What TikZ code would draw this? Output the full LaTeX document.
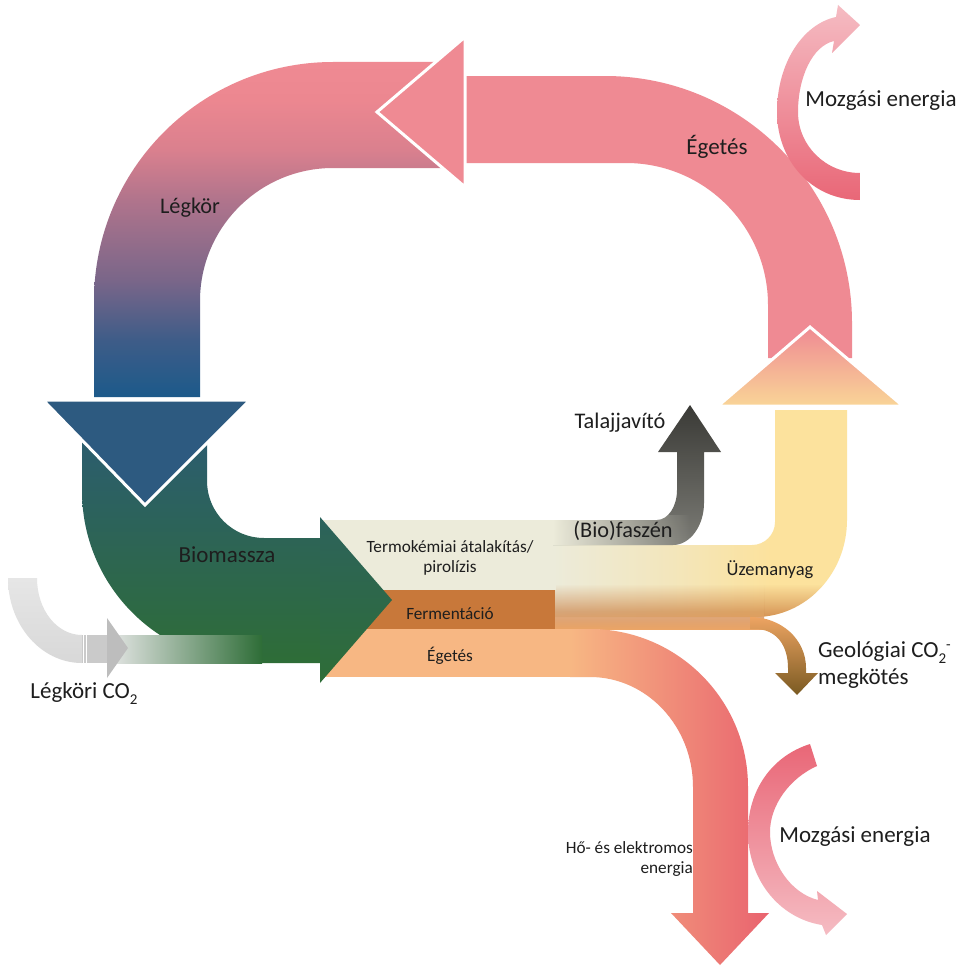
\documentclass[tikz,border=0pt]{standalone}
\usepackage{fontspec}
\setmainfont{Carlito}
\usetikzlibrary{fadings}
\definecolor{pinkA}{HTML}{EF8A93}
\definecolor{triMid}{HTML}{F3A38E}
\definecolor{triBot}{HTML}{F9D597}
\definecolor{beige}{HTML}{ECEBDA}
\definecolor{uzMid}{HTML}{F3E6BC}
\definecolor{yel}{HTML}{FCE29D}
\definecolor{ferm}{HTML}{C8783A}
\definecolor{fermLow}{HTML}{EBA566}
\definecolor{egOr}{HTML}{F7B783}
\definecolor{geoTop}{HTML}{EDA462}
\definecolor{geoMid}{HTML}{C98C45}
\definecolor{olive}{HTML}{7A5A22}
\definecolor{darkG}{HTML}{3A3A36}
\definecolor{gryB}{HTML}{7C7C76}
\definecolor{hoMid}{HTML}{F09283}
\definecolor{redE}{HTML}{E9636F}
\definecolor{grTop}{HTML}{2B5A78}
\definecolor{grBot}{HTML}{2E6D37}
\definecolor{triBlue}{HTML}{2D5A80}
\definecolor{co2L}{HTML}{E8E8E8}
\definecolor{co2M}{HTML}{B4C6B2}
\definecolor{co2T}{HTML}{E6E6E6}
\definecolor{co2B}{HTML}{D8D8D8}
\definecolor{co2S}{HTML}{CACACA}
\definecolor{co2H}{HTML}{BDBDBD}
\definecolor{mzLight}{HTML}{F5BCC3}
\definecolor{mzDark}{HTML}{E96777}
\definecolor{txt}{HTML}{1E1E1E}
\definecolor{lkA}{HTML}{1C5A8A}
\definecolor{lkB}{HTML}{3E5C88}
\definecolor{lkC}{HTML}{7A6689}
\definecolor{lkD}{HTML}{B0748C}
\definecolor{lkE}{HTML}{DA808E}
\definecolor{lkF}{HTML}{EC8790}
\definecolor{lkG}{HTML}{EF8A93}
\pgfdeclareverticalshading{legkorsh}{100bp}{color(0bp)=(lkA); color(25bp)=(lkA); color(33.5bp)=(lkB); color(42.5bp)=(lkC); color(54.4bp)=(lkD); color(61.9bp)=(lkE); color(69.3bp)=(lkF); color(75bp)=(lkG); color(100bp)=(lkG)}
\pgfdeclarehorizontalshading{uzsh}{100bp}{color(0bp)=(beige); color(25bp)=(beige); color(45bp)=(uzMid); color(62bp)=(yel); color(100bp)=(yel)}
\pgfdeclareverticalshading{fermsh}{100bp}{color(0bp)=(fermLow); color(25bp)=(fermLow); color(45bp)=(ferm); color(58bp)=(ferm); color(75bp)=(ferm); color(100bp)=(ferm)}
\tikzfading[name=fadeTopPart, top color=transparent!100, middle color=transparent!0, bottom color=transparent!0]
\tikzfading[name=fadeLeftOpaque, left color=transparent!0, right color=transparent!100]
\newcommand{\lowtwo}{\raisebox{-0.28em}{\fontsize{15}{15}\selectfont 2}}
\newcommand{\highdash}{\raisebox{0.32em}{\fontsize{15}{15}\selectfont -}}
\def\uzpath{(553,545) -- (752,545) .. controls (764.7,545) and (775,534.7) .. (775,522) -- (775,410) -- (847,410) -- (847,520) .. controls (847,573.5) and (806,617) .. (755,617) -- (553,617) -- cycle}
\def\darkpath{(553,520) -- (657,520) .. controls (668,520) and (677,506.6) .. (677,490) -- (677,452) -- (658,452) -- (690,405) -- (721,452) -- (704,452) -- (704,503) .. controls (704,526) and (690,545) .. (673,545) -- (553,545) -- cycle}
\begin{document}
\begin{tikzpicture}[x=1pt,y=-1pt,
  lbl/.style={text=txt, inner sep=0pt, anchor=base},
  fsBig/.style={lbl, font=\fontsize{23}{28}\selectfont},
  fsMed/.style={lbl, font=\fontsize{22.3}{27}\selectfont},
  fsUz/.style={lbl, font=\fontsize{18.5}{22}\selectfont},
  fsSmall/.style={lbl, font=\fontsize{17.2}{20}\selectfont},
  wtri/.style={draw=white, line width=3pt, line join=miter}]
\fill[white] (0,0) rectangle (961,966);
\useasboundingbox (0,0) rectangle (961,966);
% upper Egetes band
\fill[pinkA] (445,76) -- (605,76) arc[start angle=-90, end angle=0, radius=247] -- (852,358) -- (768,358) -- (768,305) arc[start angle=0, end angle=-90, radius=142] -- (445,163) -- cycle;
% up triangle
\shadedraw[wtri, top color=pinkA, middle color=triMid, bottom color=triBot] (718,406) -- (903,406) -- (810,327) -- cycle;
% Uzemanyag band
\shade[shading=uzsh] \uzpath;
\begin{scope}
\clip \uzpath;
\fill[ferm, path fading=fadeTopPart] (764,584) rectangle (860,629);
\end{scope}
% fermentation continuation
\shade[shading=fermsh, path fading=fadeTopPart] (553,584) rectangle (764,629);
% Geologiai branch
\shade[top color=geoTop, middle color=geoMid, bottom color=olive] (750,617) .. controls (781,617) and (806,639) .. (806,668) -- (806,673) -- (818,673) -- (797,695) -- (775,673) -- (788,673) -- (788,668) .. controls (788,645) and (776,629) .. (755,629) -- (750,629) -- cycle;
% process boxes
\fill[beige] (320,520) rectangle (556,590);
\fill[ferm] (320,590) rectangle (555,629);
\fill[egOr] (320,629) rectangle (600,677);
% Talajjavito dark arrow
\shade[top color=darkG, bottom color=gryB] \darkpath;
\begin{scope}
\clip \darkpath;
\fill[beige, path fading=fadeLeftOpaque] (553,515) rectangle (690,550);
\end{scope}
% Ho- es elektromos arrow
\shade[left color=egOr, middle color=hoMid, right color=redE] (570,629) -- (590,629) arc[start angle=-90, end angle=0, radius=158] -- (748,913) -- (769,913) -- (720,965) -- (671,913) -- (693,913) -- (693,787) arc[start angle=0, end angle=-90, x radius=103, y radius=110] -- (570,677) -- cycle;
% Biomassza green arc
\shade[top color=grTop, bottom color=grBot] (82,400) -- (207,400) -- (207,481) arc[start angle=180, end angle=90, radius=57] -- (330,538) -- (330,663) -- (254,663) arc[start angle=90, end angle=180, radius=172] -- cycle;
% Legkori CO2 arrow
\shade[left color=co2L, middle color=co2M, right color=grBot] (107,635) rectangle (262,663);
\shade[top color=co2T, bottom color=co2B] (8,578) -- (37,578) .. controls (37,610) and (57,635) .. (82,635) -- (82,663) .. controls (41,663) and (8,625) .. (8,578) -- cycle;
\fill[co2S] (82,635) rectangle (107,663);
\draw[white, line width=0.8pt] (83.5,635) -- (83.5,663) (86.5,635) -- (86.5,663);
\fill[co2H] (107,618) -- (128,648) -- (107,678) -- cycle;
% green arrowhead
\shade[top color=grTop!56!grBot, bottom color=grBot] (320,517) -- (392,600) -- (320,683) -- cycle;
% Legkor arc
\shade[shading=legkorsh] (94,397) -- (94,301) arc[start angle=180, end angle=270, radius=239] -- (450,62) -- (450,168) -- (333,168) arc[start angle=270, end angle=180, radius=133] -- (200,397) -- cycle;
% down triangle
\filldraw[wtri, fill=triBlue] (43,400) -- (250,400) -- (145,505) -- cycle;
% left triangle
\filldraw[wtri, fill=pinkA] (465,37) -- (465,187) -- (377,112) -- cycle;
% Mozgasi energia arrows
\shade[top color=mzLight, bottom color=mzDark] (860,200) .. controls (812,200) and (777,161) .. (777,112) .. controls (777,63) and (803,24) .. (836,17) -- (838,5) -- (860,25) -- (832,53) -- (834,41) .. controls (812,46) and (798,78) .. (798,112) .. controls (798,146) and (826,173) .. (860,173) -- cycle;
\shade[top color=mzDark, bottom color=mzLight] (810,744) -- (817,766) .. controls (790,778) and (770,805) .. (770,832) .. controls (770,862) and (790,893) .. (818,900) -- (817,891) -- (847,914) -- (826,935) -- (822,925) .. controls (778,918) and (748,878) .. (748,832) .. controls (748,790) and (772,756) .. (810,744) -- cycle;
% labels
\node[fsMed] (tLegkor) at (190,213) {Légkör};
\node[fsBig] (tEget1) at (717,154) {Égetés};
\node[fsBig] (tMozg1) at (881,106) {Mozgási energia};
\node[fsMed] (tTalaj) at (620,428) {Talajjavító};
\node[fsMed] (tBiofa) at (623,537) {(Bio)faszén};
\node[fsUz] (tUzem) at (770,575) {Üzemanyag};
\node[fsSmall] (tTermo1) at (450,552) {Termokémiai átalakítás/};
\node[fsSmall] (tTermo2) at (450,572) {pirolízis};
\node[fsSmall] (tFerm) at (450,619) {Fermentáció};
\node[fsSmall] (tEget2) at (450,661) {Égetés};
\node[fsBig] (tBiom) at (227,562) {Biomassza};
\node[fsBig] (tLco2) at (84,698) {Légköri CO\lowtwo};
\node[fsBig, anchor=base west] (tGeo1) at (818,657) {Geológiai CO\lowtwo\highdash};
\node[fsBig, anchor=base west] (tGeo2) at (818,684) {megkötés};
\node[fsSmall, anchor=base east] (tHo1) at (693,853) {Hő- és elektromos};
\node[fsSmall, anchor=base east] (tHo2) at (693,873) {energia};
\node[fsBig] (tMozg2) at (855,842) {Mozgási energia};
\end{tikzpicture}
\end{document}
